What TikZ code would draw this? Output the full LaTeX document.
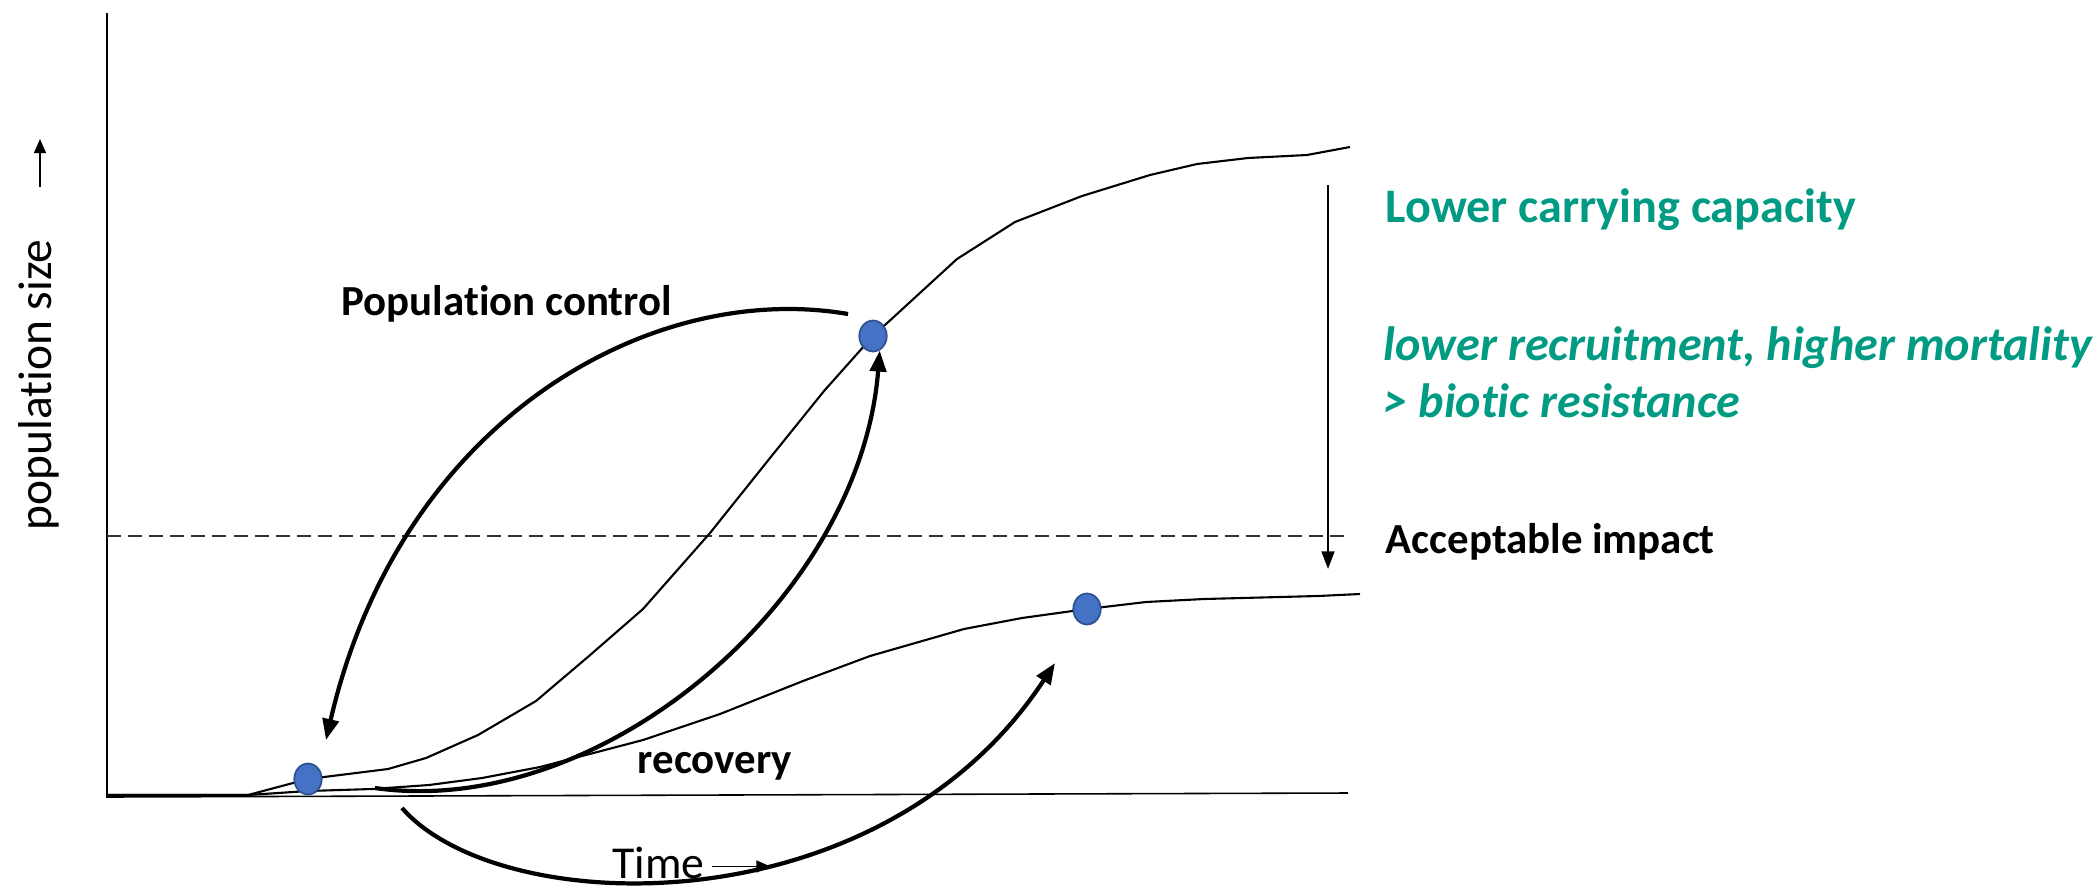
\documentclass[tikz,border=0pt]{standalone}
\usepackage{fontspec}
\setmainfont{Carlito}[Ligatures=NoCommon]
\usetikzlibrary{arrows.meta,shapes.geometric}
\definecolor{capteal}{RGB}{0,155,130}
\definecolor{dotblue}{RGB}{68,114,196}
\definecolor{dotedge}{RGB}{47,82,143}

\begin{document}
\begin{tikzpicture}[x=0.1mm, y=0.1mm,
    every node/.style={inner sep=0pt, font=\fontsize{13}{16}\selectfont},
    lbl/.style={anchor=base west, font=\fontsize{12.2}{15}\selectfont\bfseries},
    note/.style={anchor=base west, text=capteal, font=\fontsize{13.7}{16}\selectfont\bfseries},
    curve/.style={black, line width=0.6pt, line join=round},
    move/.style={black, line width=1.2pt, -{Triangle[length=6pt,width=4.6pt]}},
    textarrow/.style={black, line width=0.5pt, -{Triangle[length=4pt,width=3.4pt]}},
    dot/.style={ellipse, draw=dotedge, fill=dotblue, line width=0.5pt,
                minimum width=7.8pt, minimum height=8.8pt}]
\useasboundingbox (0,0) rectangle (2100,-894);

\draw [black, line width=0.45pt] (107,-13) -- (107,-797) -- (1348,-793);
\draw [black!80, line width=0.35pt, dash pattern=on 4pt off 2pt] (107,-536) -- (1348,-536);

\draw [curve] (107,-795) -- (248,-795) -- (308,-779) -- (388,-769) -- (426,-758)
    -- (478,-735) -- (536,-701) -- (589,-656) -- (643,-609) -- (710,-533)
    -- (770,-458) -- (824,-391) -- (873,-336) -- (957,-259) -- (1015,-222)
    -- (1082,-196) -- (1150,-175) -- (1197,-164) -- (1248,-158) -- (1307,-155)
    -- (1350,-147);
\draw [curve] (107,-795) -- (248,-795) -- (308,-791) -- (372,-789) -- (429,-785)
    -- (482,-778) -- (540,-767) -- (643,-740) -- (720,-714) -- (803,-681)
    -- (870,-656) -- (964,-629) -- (1022,-618) -- (1087,-609) -- (1146,-602)
    -- (1204,-599) -- (1318,-596) -- (1360,-594);

\node [dot] (dlow) at (308,-779) {};
\node [dot] (dhigh) at (873,-336) {};
\node [dot] (dnew) at (1087,-609) {};

\coordinate (ctrlfrom) at (848,-314);
\coordinate (ctrlto) at (326,-740);
\coordinate (risefrom) at (375,-788);
\coordinate (recfrom) at (402,-808);
\coordinate (recto) at (1055,-663);
\coordinate (kfrom) at (1328,-185);
\coordinate (kto) at (1328,-569);

\draw [move] (ctrlfrom) .. controls (650,-280) and (400,-420) .. (ctrlto);
\draw [move] (risefrom) .. controls (600,-820) and (860,-600) .. (dhigh.-65);
\draw [move] (recfrom) .. controls (500,-920) and (880,-930) .. (recto);
\draw [black, line width=0.75pt, -{Triangle[length=5pt,width=3.6pt]}] (kfrom) -- (kto);

\node [note] (capacity) at (1385,-222) {Lower carrying capacity};
\node [note] (cause) at (1383,-360) {\itshape lower recruitment, higher mortality};
\node [note] (resist) at (1383,-417) {\itshape > biotic resistance};
\node [lbl] (impact) at (1385,-553) {Acceptable impact};
\node [lbl] (control) at (341,-315) {Population control};
\node [lbl] (recovery) at (637,-773) {recovery};
\node [anchor=base west] (time) at (612,-878) {Time};
\draw [textarrow] (time.east) ++(7,-4) -- ++(58,0);
\node [rotate=90, anchor=base, font=\fontsize{13.5}{16}\selectfont] (ylab) at (51,-385) {population size};
\draw [textarrow] (40,-187) -- (40,-139);
\end{tikzpicture}
\end{document}
